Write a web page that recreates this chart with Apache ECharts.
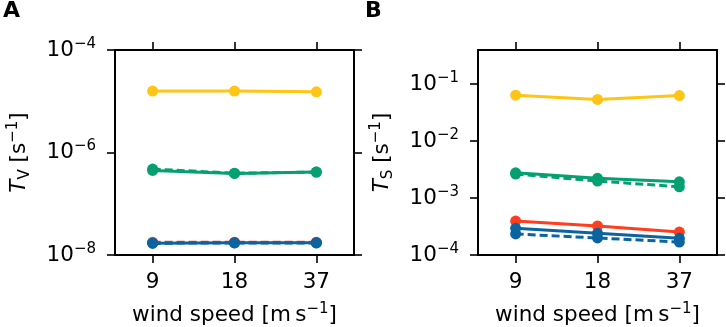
<!DOCTYPE html>
<html><head><meta charset="utf-8">
<script src="https://cdn.jsdelivr.net/npm/echarts@6/dist/echarts.min.js"></script>
<style>html,body{margin:0;padding:0;background:#fff}#c{width:726px;height:327px}</style>
</head><body><div id="c"></div>
<script>
const categories = ['9', '18', '37'];
const xIdx = [0, 1, 2];
const yTicksA = [1e-8, 1e-6, 1e-4];
const yTicksB = [1e-4, 1e-3, 1e-2, 1e-1];

const A_yellow = [1.58e-5, 1.58e-5, 1.53e-5];
const A_greenDashed = [4.75e-7, 3.95e-7, 4.15e-7];
const A_greenSolid = [4.47e-7, 3.91e-7, 4.15e-7];
const A_redDashed = [1.77e-8, 1.78e-8, 1.78e-8];
const A_blueDashed = [1.70e-8, 1.72e-8, 1.72e-8];
const A_blueSolid = [1.70e-8, 1.73e-8, 1.73e-8];

const B_yellow = [0.064, 0.054, 0.063];
const B_greenSolid = [2.78e-3, 2.22e-3, 1.93e-3];
const B_greenDashed = [2.64e-3, 1.99e-3, 1.58e-3];
const B_redSolid = [3.95e-4, 3.23e-4, 2.53e-4];
const B_blueSolid = [2.94e-4, 2.40e-4, 1.96e-4];
const B_blueDashed = [2.34e-4, 1.99e-4, 1.69e-4];

const C = {yellow: '#FFC515', green: '#05A071', red: '#FF3D1F', blue: '#0B63A0'};
const FONT = 'DejaVu Sans';
const FS = 21.5, FSS = 15;
const chart = echarts.init(document.getElementById('c'), null, {renderer: 'canvas'});

const supRich = {
  b: {fontFamily: FONT, fontSize: FS, color: '#000', lineHeight: 27},
  s: {fontFamily: FONT, fontSize: FSS, color: '#000', lineHeight: 15, verticalAlign: 'top'}
};
function powLabel(v) {
  const e = Math.round(Math.log10(v));
  return '{b|10}{s|' + (e < 0 ? '\u2212' + (-e) : e) + '}';
}
const nameRich = {
  i: {fontFamily: FONT, fontSize: FS, fontStyle: 'italic', color: '#000', lineHeight: 27},
  sub: {fontFamily: FONT, fontSize: FSS, color: '#000', lineHeight: 14, verticalAlign: 'bottom'},
  n: {fontFamily: FONT, fontSize: FS, color: '#000', lineHeight: 27},
  sup: {fontFamily: FONT, fontSize: FSS, color: '#000', lineHeight: 15, verticalAlign: 'top'}
};
const lineStyleAxis = {color: '#000', width: 2};
const tickStyle = {color: '#000', width: 1.6};

const grids = [
  {left: 115, top: 50, width: 239, height: 205, outerBoundsMode: 'none', containLabel: false},
  {left: 478, top: 50, width: 239, height: 205, outerBoundsMode: 'none', containLabel: false}
];
function xAxes(gi) {
  return [
    {type: 'value', gridIndex: gi, min: -0.46, max: 2.46, position: 'bottom',
      axisLine: {show: true, onZero: false, lineStyle: lineStyleAxis},
      axisTick: {show: true, length: 8, lineStyle: tickStyle, customValues: xIdx},
      axisLabel: {customValues: xIdx, formatter: v => categories[Math.round(v)], fontFamily: FONT, fontSize: FS, color: '#000', margin: 16},
      splitLine: {show: false},
      name: '{n|wind speed [m\u2009s}{sup|\u22121}{n|]}', nameLocation: 'middle', nameGap: 47,
      nameTextStyle: {rich: nameRich, verticalAlign: 'top'}},
    {type: 'value', gridIndex: gi, min: -0.46, max: 2.46, position: 'top',
      axisLine: {show: true, onZero: false, lineStyle: lineStyleAxis},
      axisTick: {show: true, length: 8, lineStyle: tickStyle, customValues: xIdx},
      axisLabel: {show: false}, splitLine: {show: false}}
  ];
}
function yAxes(gi, min, max, ticks, sub) {
  return [
    {type: 'log', logBase: 10, gridIndex: gi, min: min, max: max, position: 'left',
      axisLine: {show: true, onZero: false, lineStyle: lineStyleAxis},
      axisTick: {show: true, length: 8, lineStyle: tickStyle, customValues: ticks},
      axisLabel: {customValues: ticks, formatter: powLabel, rich: supRich, margin: 19},
      splitLine: {show: false}, minorTick: {show: false},
      name: '{i|T}{sub|' + sub + '}{n| [s}{sup|\u22121}{n|]}', nameLocation: 'middle', nameGap: 82, nameRotate: 90,
      nameTextStyle: {rich: nameRich}},
    {type: 'log', logBase: 10, gridIndex: gi, min: min, max: max, position: 'right',
      axisLine: {show: true, onZero: false, lineStyle: lineStyleAxis},
      axisTick: {show: true, length: 8, lineStyle: tickStyle, customValues: ticks},
      axisLabel: {show: false}, splitLine: {show: false}}
  ];
}
function ser(xi, yi, vals, color, dashed) {
  return {type: 'line', xAxisIndex: xi, yAxisIndex: yi, data: vals.map((v, i) => [xIdx[i], v]),
    symbol: 'circle', symbolSize: 11, itemStyle: {color: color},
    lineStyle: {color: color, width: 3, type: dashed ? [8, 4] : 'solid'},
    emphasis: {disabled: true}, animation: false, z: 3};
}

chart.setOption({
  animation: false,
  grid: grids,
  xAxis: [...xAxes(0), ...xAxes(1)],
  yAxis: [...yAxes(0, 1e-8, 1e-4, yTicksA, 'V'), ...yAxes(1, 1e-4, Math.pow(10, -0.4), yTicksB, 'S')],
  series: [
    ser(0, 0, A_yellow, C.yellow, false),
    ser(0, 0, A_greenDashed, C.green, true),
    ser(0, 0, A_greenSolid, C.green, false),
    ser(0, 0, A_redDashed, C.red, true),
    ser(0, 0, A_blueDashed, C.blue, true),
    ser(0, 0, A_blueSolid, C.blue, false),
    ser(2, 2, B_yellow, C.yellow, false),
    ser(2, 2, B_greenDashed, C.green, true),
    ser(2, 2, B_greenSolid, C.green, false),
    ser(2, 2, B_redSolid, C.red, false),
    ser(2, 2, B_blueDashed, C.blue, true),
    ser(2, 2, B_blueSolid, C.blue, false)
  ],
  graphic: [
    {type: 'text', left: 3, top: 0, style: {text: 'A', font: 'bold 22px "DejaVu Sans"', fill: '#000'}},
    {type: 'text', left: 365, top: 0, style: {text: 'B', font: 'bold 22px "DejaVu Sans"', fill: '#000'}}
  ]
});
</script></body></html>
